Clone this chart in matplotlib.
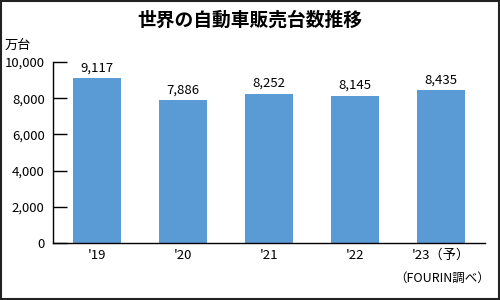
import matplotlib.pyplot as plt
from matplotlib.patches import Rectangle

plt.rcParams['font.family'] = ['Noto Sans CJK JP', 'DejaVu Sans']

years = ["'19", "'20", "'21", "'22", "'23（予）"]
sales = [9117, 7886, 8252, 8145, 8435]
yticks = [0, 2000, 4000, 6000, 8000, 10000]

fig = plt.figure(figsize=(5, 3), dpi=100)
ax = fig.add_axes([0.106, 0.19, 0.864, 0.603])

x = range(len(years))
ax.bar(x, sales, width=0.56, color='#5b9bd5')
for xi, v in zip(x, sales):
    ax.text(xi, v + 200, f'{v:,}', ha='center', va='bottom', fontsize=9.5)

ax.set_xlim(-0.51, len(years) - 0.49)
ax.set_ylim(0, 10000)
ax.set_yticks(yticks)
ax.set_yticklabels([f'{t:,}' for t in yticks], fontsize=9.5)
ax.tick_params(axis='y', direction='in', length=10, width=1, pad=6)
ax.set_xticks(list(x))
ax.set_xticklabels(years, fontsize=9.5)
ax.tick_params(axis='x', length=0, pad=4)
for s in ['top', 'right']:
    ax.spines[s].set_visible(False)
ax.spines['left'].set_linewidth(1)
ax.spines['bottom'].set_linewidth(1)

fig.text(0.5, 0.933, '世界の自動車販売台数推移', ha='center', va='center',
         fontsize=13.5, fontweight='bold')
fig.text(0.01, 0.85, '万台', ha='left', va='center', fontsize=9.5)
fig.text(0.98, 0.072, '（FOURIN調べ）', ha='right', va='center', fontsize=9)

fig.patches.append(Rectangle((0.002, 0.003), 0.996, 0.994, transform=fig.transFigure,
                             fill=False, edgecolor='#222222', linewidth=1.5))

fig.savefig('out.png', dpi=100)
